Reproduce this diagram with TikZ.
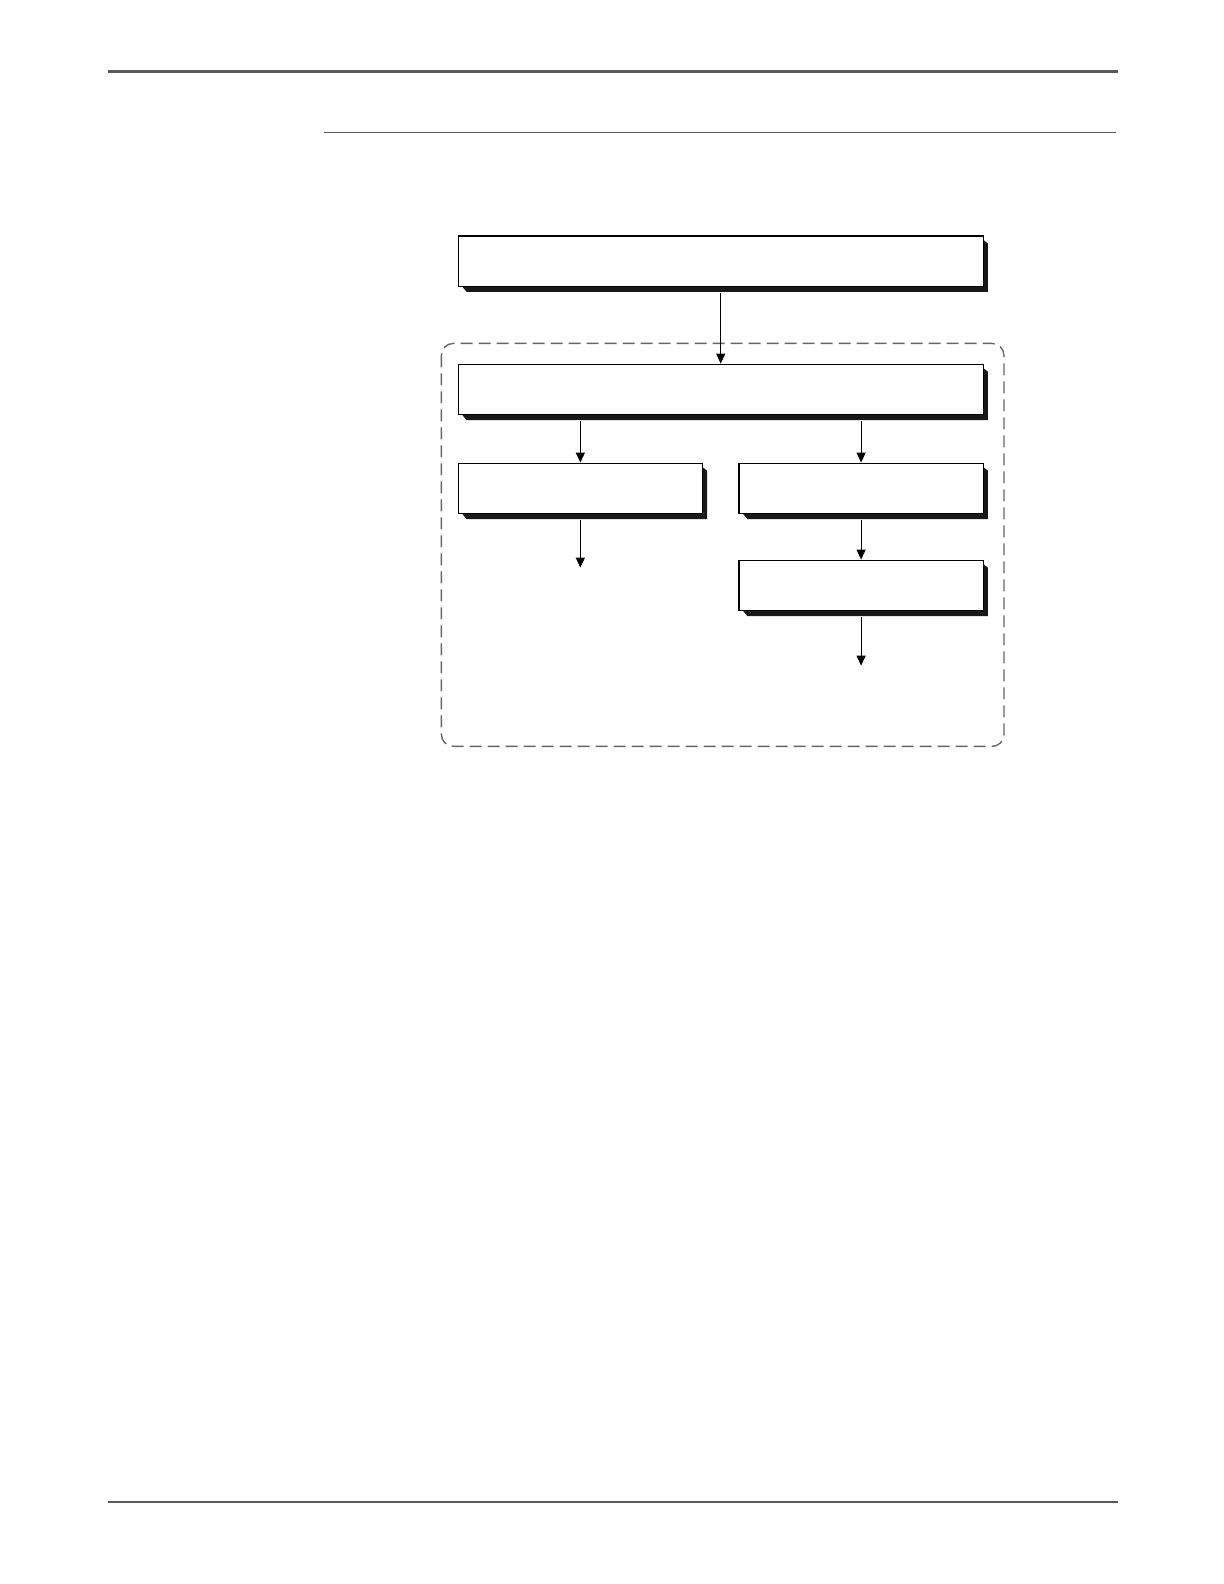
\documentclass[tikz,border=0pt]{standalone}
\usetikzlibrary{arrows.meta}
\begin{document}
\begin{tikzpicture}[x=0.505bp,y=-0.505bp,
  stepbox/.style={draw=black,line width=0.6bp,fill=white,minimum height=25.25bp,inner sep=0pt},
  arr/.style={line width=0.6bp,-{Triangle[length=5bp,width=4.5bp]}},
  rulegray/.style={draw=black!65}]
\useasboundingbox (0bp,0bp) rectangle (612bp,-792bp);
% page rules
\draw[rulegray,line width=1.3bp] (107,71) -- (1107,71);
\draw[rulegray,line width=0.7bp] (321,131) -- (1105,131);
\draw[rulegray,line width=0.7bp] (107,1487) -- (1107,1487);
% dashed group
\draw[black!60,line width=0.7bp,dash pattern=on 6bp off 3bp,rounded corners=6bp] (437,340) rectangle (994,739);
% shadows
\foreach \xa/\ya/\xb/\yb in {453/233/973/283, 453/360/973/410, 453/458/695/508, 731/458/973/508, 731/554/973/604}{
  \fill[black!90] (\xa+4,\yb) -- (\xb,\yb) -- (\xb,\ya+4) -- (\xb+5,\ya+8) -- (\xb+5,\yb+6) -- (\xa+9,\yb+6) -- cycle;
}
% boxes
\node[stepbox,minimum width=262.6bp,anchor=north west] (b1) at (453,233) {};
\node[stepbox,minimum width=262.6bp,anchor=north west] (b2) at (453,360) {};
\node[stepbox,minimum width=122.2bp,anchor=north west] (b3) at (453,458) {};
\node[stepbox,minimum width=122.2bp,anchor=north west] (b4) at (731,458) {};
\node[stepbox,minimum width=122.2bp,anchor=north west] (b5) at (731,554) {};
\coordinate (e3) at (b3.south |- 0,562);
\coordinate (e5) at (b5.south |- 0,659);
% connectors
\draw[arr] ([yshift=-3bp]b1.south) -- (b2.north);
\draw[arr] ([yshift=-3bp]b2.south -| b3.north) -- (b3.north);
\draw[arr] ([yshift=-3bp]b2.south -| b4.north) -- (b4.north);
\draw[arr] ([yshift=-3bp]b3.south) -- (e3);
\draw[arr] ([yshift=-3bp]b4.south) -- (b5.north);
\draw[arr] ([yshift=-3bp]b5.south) -- (e5);
\end{tikzpicture}
\end{document}
